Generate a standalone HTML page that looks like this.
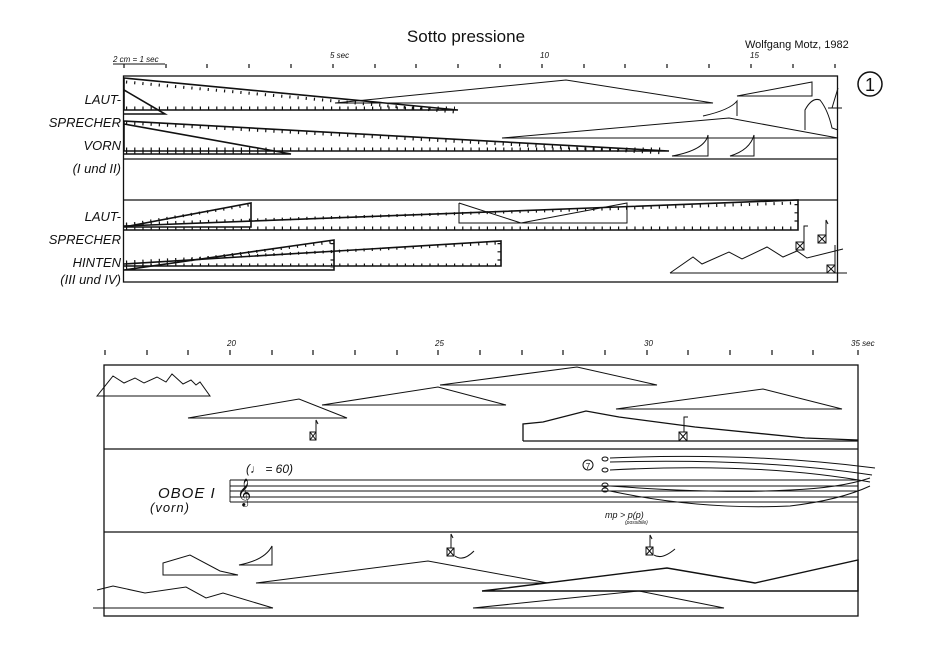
<!DOCTYPE html>
<html><head><meta charset="utf-8"><style>
html,body{margin:0;padding:0;background:#fff;}
svg{display:block;}
text{font-family:"Liberation Sans",sans-serif;fill:#111;}
.it{font-style:italic;font-size:13px;}
</style></head><body>
<svg width="940" height="665" viewBox="0 0 940 665" xmlns="http://www.w3.org/2000/svg" fill="none" stroke="#111" stroke-width="1">
<text x="466" y="42" font-size="17" text-anchor="middle" stroke="none">Sotto pressione</text>
<text x="745" y="48" font-size="11" stroke="none">Wolfgang Motz, 1982</text>
<circle cx="870" cy="84" r="12" stroke-width="1.5"/>
<text x="870" y="91" font-size="18" text-anchor="middle" stroke="none">1</text>
<text x="113" y="62" class="it" stroke="none" style="font-size:8px">2 cm = 1 sec</text>
<line x1="113" y1="64" x2="165" y2="64"/>
<text x="330" y="58" style="font-size:8px" class="it" stroke="none">5 sec</text>
<text x="540" y="58" style="font-size:8px" class="it" stroke="none">10</text>
<text x="750" y="58" style="font-size:8px" class="it" stroke="none">15</text>
<g stroke-width="1.2">
<path d="M124 64v4M166 64v4M207 64v4M249 64v4M291 64v4M333 64v4M375 64v4M416 64v4M458 64v4M500 64v4M542 64v4M584 64v4M625 64v4M667 64v4M709 64v4M751 64v4M793 64v4M835 64v4"/>
</g>
<rect x="123.5" y="76" width="714" height="206" stroke-width="1.3"/>
<line x1="124" y1="159" x2="838" y2="159" stroke-width="1.2"/>
<line x1="124" y1="200" x2="838" y2="200" stroke-width="1.2"/>
<g text-anchor="end" stroke="none" font-size="13" font-style="italic">
<text x="121" y="104">LAUT-</text><text x="121" y="127">SPRECHER</text><text x="121" y="150">VORN</text><text x="121" y="173">(I und II)</text>
<text x="121" y="221">LAUT-</text><text x="121" y="244">SPRECHER</text><text x="121" y="267">HINTEN</text><text x="121" y="284">(III und IV)</text>
</g>
<g stroke-width="1.6">
<path d="M124 78L458 110H124Z"/><path d="M124 90L165 114H124"/>
<path d="M124 121L669 151H124Z"/><path d="M124 124L291 154H124"/>
<path d="M124 227L251 203V227Z"/><path d="M124 226L798 200V230H124"/>
<path d="M124 270L334 240V270H124"/><path d="M124 264L501 241V266H124"/>
</g>
<g stroke-width="3" stroke-dasharray="1.2 7">
<path d="M126 82L455 112M126 108H455M126 123L665 153M126 149H665M126 152H290M126 225L249 205M126 228H795M126 224L795 203M796 204V228M126 268L332 242M126 262L499 243M126 265H499M499 243V265M332 243V268"/>
</g>
<g stroke-width="1">
<path d="M335 103L566 80L713 103Z"/><path d="M737 96L812 82V96Z"/>
<path d="M703 116Q730 110 737 101V116"/>
<path d="M805 130V110Q812 97 820 100Q828 110 832 128L838 130"/>
<path d="M832 108L838 88M828 108H842"/>
<path d="M502 138L729 118L838 138Z"/>
<path d="M672 156Q705 150 708 135V156Z"/><path d="M730 156Q750 150 754 135V156Z"/>
<path d="M459 203V223H627V203L521 223L459 203"/>
<path d="M670 273L693 257L702 264L729 252L742 259L767 247L783 257L797 251L807 258L843 249"/>
<path d="M670 273H847"/>
<rect x="796" y="242" width="8" height="8"/><path d="M796 242L804 250M804 242L796 250M804 242V226H808"/>
<rect x="818" y="235" width="8" height="8"/><path d="M818 235L826 243M826 235L818 243M826 235V220L828 224"/>
<rect x="827" y="265" width="8" height="8"/><path d="M827 265L835 273M835 265L827 273M835 265V245"/>
</g>
<g font-style="italic" stroke="none" style="font-size:8px">
<text x="227" y="346">20</text><text x="435" y="346">25</text><text x="644" y="346">30</text><text x="851" y="346">35 sec</text>
</g>
<path stroke-width="1.2" d="M105 350v5M147 350v5M188 350v5M230 350v5M272 350v5M313 350v5M355 350v5M397 350v5M438 350v5M480 350v5M522 350v5M563 350v5M605 350v5M647 350v5M688 350v5M730 350v5M772 350v5M813 350v5M858 350v5"/>
<rect x="104" y="365" width="754" height="251" stroke-width="1.3"/>
<line x1="104" y1="449" x2="858" y2="449" stroke-width="1.2"/>
<line x1="104" y1="532" x2="858" y2="532" stroke-width="1.2"/>
<g>
<path d="M97 396L113 376L124 383L135 378L144 383L157 377L166 382L172 374L183 384L191 380L196 385L200 382L210 396Z"/>
<path d="M188 418L299 399L347 418Z"/><path d="M322 405L438 387L506 405Z"/><path d="M440 385L577 367L657 385Z"/>
<path d="M616 409L763 389L842 409Z"/>
<path d="M523 441V424L543 422L586 411L619 417L695 427L805 438L858 440M523 441H858" stroke-width="1.3"/>
<rect x="310" y="432" width="6" height="8"/><path d="M310 432L316 440M316 432L310 440M316 432V420L318 424"/>
<rect x="679" y="432" width="8" height="9"/><path d="M679 432L687 441M687 432L679 441M684 432V417H688"/>
<path d="M230 480H858M230 486H858M230 491H858M230 497H858M230 502H858M230 480V502" stroke-width="0.9"/>
<text x="237" y="500" font-size="24" stroke="none" font-family="DejaVu Sans">𝄞</text>
<text x="246" y="473" stroke="none" font-size="12" font-style="italic">(♩ = 60)</text>
<text x="158" y="498" stroke="none" font-size="15" font-style="italic" letter-spacing="1">OBOE  I</text>
<text x="150" y="512" stroke="none" font-size="13" font-style="italic" letter-spacing="1">(vorn)</text>
<circle cx="588" cy="465" r="5"/><text x="588" y="469" font-size="8" text-anchor="middle" stroke="none">7</text>
<ellipse cx="605" cy="459" rx="3" ry="2"/><ellipse cx="605" cy="470" rx="3" ry="2"/><ellipse cx="605" cy="485" rx="3" ry="2"/><ellipse cx="605" cy="490" rx="3" ry="2"/>
<path d="M610 458Q750 452 875 468M610 462Q760 458 872 475M610 470Q760 462 870 482M610 486Q720 494 790 490Q840 488 870 478M610 491Q700 510 790 506Q840 500 870 486"/>
<text x="605" y="518" stroke="none" font-size="9" font-style="italic">mp  &gt; p(p)</text>
<text x="625" y="524" stroke="none" font-size="5" font-style="italic">(possibile)</text>
<path d="M163 575V563L190 555L220 571L238 575Z"/><path d="M239 565Q265 560 272 546V565Z"/>
<path d="M256 583L428 561L548 583Z"/>
<path d="M97 590L113 586L145 593L186 587L206 598L223 593L273 608M93 608H273"/>
<path d="M482 591L667 568L755 583L858 560V591H482" stroke-width="1.4"/>
<path d="M473 608L639 591L724 608Z"/>
<rect x="447" y="548" width="7" height="8"/><path d="M447 548L454 556M454 548L447 556M451 548V534L453 538M455 556Q463 562 474 551" />
<rect x="646" y="547" width="7" height="8"/><path d="M646 547L653 555M653 547L646 555M650 547V535L652 539M654 555Q662 560 675 549"/>
</g>
</svg>
</body></html>
